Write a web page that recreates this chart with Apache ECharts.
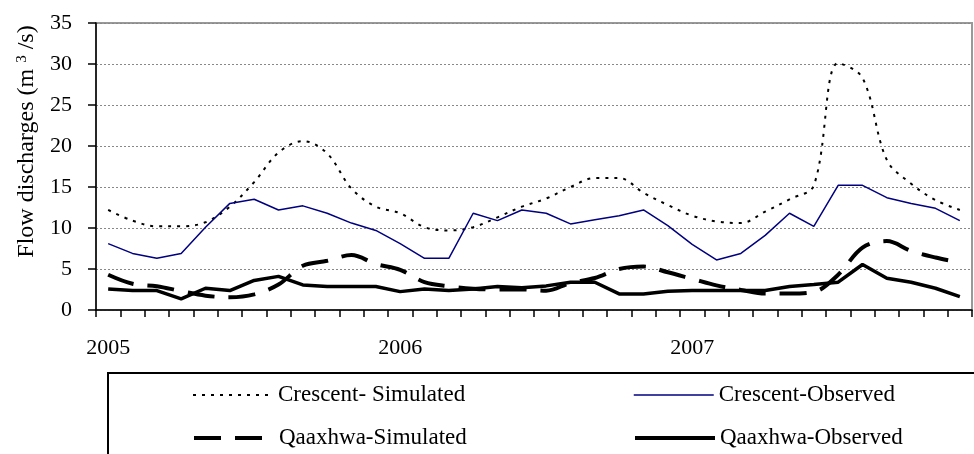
<!DOCTYPE html>
<html>
<head>
<meta charset="utf-8">
<script src="https://cdn.jsdelivr.net/npm/echarts@6/dist/echarts.min.js"></script>
<style>
  html, body { margin: 0; padding: 0; background: #fff; }
  #chart { width: 974px; height: 454px; }
</style>
</head>
<body>
<div id="chart"></div>
<script>
// monthly categories, Jan 2005 .. Dec 2007
const months = [];
['2005', '2006', '2007'].forEach(function (y) {
  for (let m = 1; m <= 12; m++) months.push(y + '-' + (m < 10 ? '0' + m : m));
});

const crescentSimulated = [12.2, 10.9, 10.2, 10.2, 10.7, 12.6, 15.6, 19.2, 20.6, 19.1, 14.8, 12.6,
  11.8, 10.1, 9.7, 10.1, 11.3, 12.6, 13.6, 15.0, 16.1, 16.1, 14.3, 12.8,
  11.5, 10.8, 10.6, 12.0, 13.5, 15.2, 30.1, 28.3, 18.3, 15.4, 13.4, 12.2];
const crescentObserved = [8.1, 6.9, 6.3, 6.9, 10.1, 13.0, 13.5, 12.2, 12.7, 11.8, 10.6, 9.7,
  8.1, 6.3, 6.3, 11.8, 10.9, 12.2, 11.8, 10.5, 11.0, 11.5, 12.2, 10.3,
  8.0, 6.1, 6.9, 9.1, 11.8, 10.2, 15.2, 15.2, 13.7, 13.0, 12.4, 10.9];
const qaaxhwaSimulated = [4.3, 3.2, 2.9, 2.3, 1.75, 1.55, 1.9, 3.1, 5.4, 6.0, 6.7, 5.6,
  4.9, 3.4, 2.9, 2.6, 2.5, 2.5, 2.35, 3.3, 3.9, 5.0, 5.3, 4.6,
  3.8, 3.0, 2.45, 2.0, 2.0, 2.2, 4.3, 7.6, 8.4, 7.2, 6.4, 5.8];
const qaaxhwaObserved = [2.57, 2.37, 2.37, 1.35, 2.65, 2.37, 3.6, 4.1, 3.06, 2.86, 2.86, 2.86,
  2.24, 2.57, 2.37, 2.57, 2.86, 2.7, 2.94, 3.39, 3.39, 1.96, 1.96, 2.28,
  2.37, 2.37, 2.37, 2.37, 2.86, 3.1, 3.39, 5.55, 3.88, 3.39, 2.65, 1.63];

const FONT = 'Liberation Serif';

const chart = echarts.init(document.getElementById('chart'));

function legendAt(name, left, top, lineWidth) {
  return {
    data: [name],
    left: left,
    top: top,
    padding: 0,
    itemWidth: 80,
    itemHeight: 14,
    itemStyle: { opacity: 0 },
    lineStyle: { width: lineWidth },
    textStyle: { fontFamily: FONT, fontSize: 23, color: '#000', lineHeight: 24 },
  };
}

chart.setOption({
  animation: false,
  backgroundColor: '#fff',
  grid: {
    left: 96,
    right: 2,
    top: 23,
    bottom: 144,
    show: true,
    borderColor: '#999',
    borderWidth: 2,
  },
  legend: [
    legendAt('Crescent- Simulated', 192, 383, 2),
    legendAt('Crescent-Observed', 633, 383, 1.5),
    legendAt('Qaaxhwa-Simulated', 192, 426, 4),
    legendAt('Qaaxhwa-Observed', 633, 426, 4),
  ],
  graphic: [{
    type: 'rect',
    shape: { x: 108, y: 373, width: 900, height: 120 },
    style: { fill: 'none', stroke: '#000', lineWidth: 2 },
    silent: true,
  }],
  xAxis: {
    type: 'category',
    data: months,
    boundaryGap: true,
    axisLine: { lineStyle: { color: '#000', width: 1.5 } },
    axisTick: { show: true, interval: 0, length: 7, lineStyle: { color: '#000', width: 1.5 } },
    axisLabel: {
      interval: 11,
      margin: 27,
      fontFamily: FONT,
      fontSize: 22,
      color: '#000',
      formatter: function (v) { return v.slice(0, 4); },
    },
    splitLine: { show: false },
  },
  yAxis: {
    type: 'value',
    min: 0,
    max: 35,
    interval: 5,
    name: 'Flow discharges (m {sup|3} /s)',
    nameLocation: 'middle',
    nameGap: 56,
    nameTextStyle: {
      fontFamily: FONT,
      fontSize: 24,
      color: '#000',
      padding: [0, 0, 0, 50],
      rich: {
        sup: { fontFamily: FONT, fontSize: 15, color: '#000', verticalAlign: 'top', padding: [0, 0, 10, 0] },
      },
    },
    axisLine: { show: true, lineStyle: { color: '#000', width: 1.5 } },
    axisTick: { show: true, length: 8, lineStyle: { color: '#000', width: 1.5 } },
    axisLabel: { margin: 24, fontFamily: FONT, fontSize: 22, color: '#000' },
    splitLine: { lineStyle: { color: '#888', type: [2, 2], width: 1 } },
  },
  series: [
    {
      name: 'Crescent- Simulated',
      type: 'line',
      data: crescentSimulated,
      smooth: 0.35,
      symbol: 'none',
      lineStyle: { color: '#000', width: 2, type: [3, 6] },
      itemStyle: { color: '#000' },
    },
    {
      name: 'Crescent-Observed',
      type: 'line',
      data: crescentObserved,
      symbol: 'none',
      lineStyle: { color: '#000080', width: 1.5 },
      itemStyle: { color: '#000080' },
    },
    {
      name: 'Qaaxhwa-Simulated',
      type: 'line',
      data: qaaxhwaSimulated,
      smooth: 0.35,
      symbol: 'none',
      lineStyle: { color: '#000', width: 4, type: [27, 14] },
      itemStyle: { color: '#000' },
    },
    {
      name: 'Qaaxhwa-Observed',
      type: 'line',
      data: qaaxhwaObserved,
      symbol: 'none',
      lineStyle: { color: '#000', width: 3.5 },
      itemStyle: { color: '#000' },
    },
  ],
});
</script>
</body>
</html>
